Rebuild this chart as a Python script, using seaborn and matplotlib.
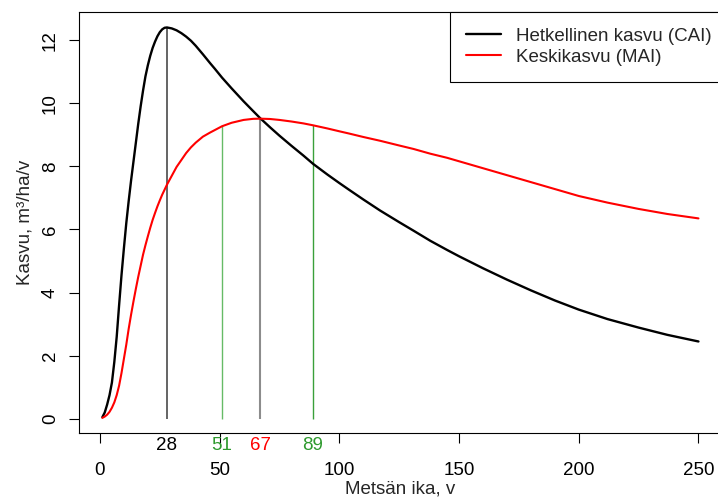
import matplotlib
matplotlib.use("Agg")
import matplotlib.pyplot as plt
import seaborn as sns
import pandas as pd

# ---- data ----
ages = [1, 2, 3, 4, 5, 6, 7, 8, 9, 10, 11, 12, 13, 14, 15, 16, 17, 18, 19, 20,
        21, 22, 23, 24, 25, 26, 27, 28, 30, 32, 34, 36, 38, 40, 43, 46, 48, 51,
        55, 60, 64, 67, 71, 75, 80, 85, 89, 95, 100, 104, 110, 117, 125, 131,
        138, 145, 150, 160, 170, 180, 190, 200, 212, 225, 237, 250]
cai = [0.05, 0.2, 0.45, 0.75, 1.15, 1.8, 2.6, 3.6, 4.55, 5.4, 6.2, 6.9, 7.55,
       8.15, 8.75, 9.35, 9.9, 10.4, 10.85, 11.2, 11.5, 11.75, 11.95, 12.12,
       12.25, 12.34, 12.39, 12.4, 12.37, 12.31, 12.22, 12.11, 11.98, 11.82,
       11.55, 11.27, 11.09, 10.81, 10.47, 10.06, 9.75, 9.52, 9.24, 8.97, 8.65,
       8.34, 8.08, 7.74, 7.47, 7.26, 6.95, 6.6, 6.23, 5.96, 5.64, 5.35, 5.15,
       4.77, 4.41, 4.07, 3.75, 3.46, 3.16, 2.89, 2.66, 2.45]
mai = [0.03, 0.07, 0.13, 0.22, 0.35, 0.52, 0.75, 1.05, 1.45, 1.9, 2.35, 2.85,
       3.3, 3.72, 4.12, 4.5, 4.85, 5.2, 5.5, 5.78, 6.05, 6.3, 6.52, 6.73, 6.92,
       7.1, 7.26, 7.42, 7.7, 7.98, 8.2, 8.42, 8.6, 8.75, 8.94, 9.07, 9.15,
       9.27, 9.38, 9.47, 9.505, 9.51, 9.5, 9.47, 9.42, 9.36, 9.3, 9.2, 9.11,
       9.04, 8.93, 8.81, 8.66, 8.55, 8.4, 8.27, 8.16, 7.94, 7.72, 7.5, 7.28,
       7.06, 6.85, 6.65, 6.49, 6.35]
series_names = ["Hetkellinen kasvu (CAI)", "Keskikasvu (MAI)"]
mark_ages = [28, 51, 67, 89]
mark_labels = ["28", "51", "67", "89"]
mark_series = ["cai", "mai", "mai", "mai"]
x_ticks = [0, 50, 100, 150, 200, 250]
y_ticks = [0, 2, 4, 6, 8, 10, 12]

FS = 13.5
sns.set_style("ticks")
plt.rcParams["font.family"] = ["Liberation Sans", "DejaVu Sans"]
plt.rcParams["font.size"] = FS

df = pd.DataFrame({"age": ages, "cai": cai, "mai": mai})

fig = plt.figure(figsize=(7.18, 4.97), dpi=100)
W, H = 718, 497
left, right, top, bottom = 78.5, 722.3, 12, 433
ax = fig.add_axes([left / W, (H - bottom) / H, (right - left) / W, (bottom - top) / H])

sns.lineplot(data=df, x="age", y="cai", color="black", lw=1.7, ax=ax,
             label=series_names[0])
sns.lineplot(data=df, x="age", y="mai", color="#FF0000", lw=1.5, ax=ax,
             label=series_names[1])

line_colors = ["#4a4a4a", "#66bb66", "#8c8c8c", "#3aa03a"]
line_widths = [1.2, 1.0, 1.5, 1.0]
label_colors = ["black", "#2e9a2e", "#FF0000", "#2e9a2e"]
for a, lab, s, lc, lw, tc in zip(mark_ages, mark_labels, mark_series,
                                 line_colors, line_widths, label_colors):
    yv = df.loc[df["age"] == a, s].iloc[0]
    ax.vlines(a, 0, yv, color=lc, lw=lw, zorder=1)
    ax.annotate(lab, xy=(a, 0), xycoords=("data", "axes fraction"),
                xytext=(0, -8.8), textcoords="offset points",
                ha="center", va="center", color=tc, fontsize=FS)

ax.set_xlim(-8.96, 259.96)
ax.set_ylim(-0.45, 12.89)
ax.set_xticks(x_ticks)
ax.set_yticks(y_ticks)
ax.tick_params(axis="both", direction="out", length=7.5, width=0.8,
               labelsize=FS, colors="black")
ax.tick_params(axis="x", pad=13.5)
ax.tick_params(axis="y", pad=6.5)
for t in ax.get_yticklabels():
    t.set_rotation(90)
    t.set_va("center")
for sp in ax.spines.values():
    sp.set_visible(True)
    sp.set_color("black")
    sp.set_linewidth(0.8)

ax.set_xlabel("Metsän ika, v", fontsize=FS, labelpad=1)
ax.set_ylabel("Kasvu, m³/ha/v", fontsize=FS, labelpad=6)

leg = ax.legend(loc="upper right", bbox_to_anchor=(1.0085, 1.0),
                borderaxespad=0, fancybox=False,
                frameon=True, edgecolor="black", fontsize=FS,
                handlelength=1.87, handletextpad=0.8, borderpad=0.85,
                labelspacing=0.2)
leg.get_frame().set_linewidth(0.8)
leg.get_frame().set_alpha(1)

fig.savefig("out.png", dpi=100)
